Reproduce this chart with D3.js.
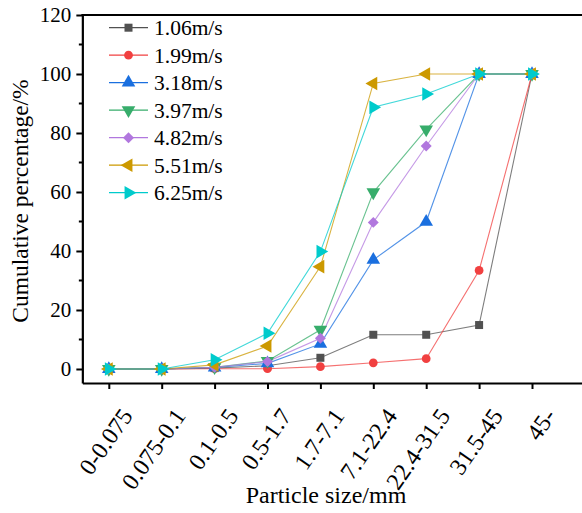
<!DOCTYPE html>
<html><head><meta charset="utf-8"><script src="https://cdn.jsdelivr.net/npm/d3@7"></script></head>
<body style="margin:0">
<svg id="chart" width="582" height="513"></svg>
<script>
// categorías del eje x (rangos de tamaño de partícula)
const CATS = ['0-0.075', '0.075-0.1', '0.1-0.5', '0.5-1.7', '1.7-7.1', '7.1-22.4', '22.4-31.5', '31.5-45', '45-'];
const SERIES_NAMES = ['1.06m/s', '1.99m/s', '3.18m/s', '3.97m/s', '4.82m/s', '5.51m/s', '6.25m/s'];
const V_106 = [0, 0, 0.3, 1.1, 3.8, 11.6, 11.6, 14.9, 100];
const V_199 = [0, 0, 0.1, 0.1, 0.8, 2.1, 3.5, 33.4, 100];
const V_318 = [0, 0, 0.5, 1.9, 8.5, 37.0, 49.9, 100, 100];
const V_397 = [0, 0, 0.6, 2.7, 13.3, 59.9, 81.2, 100, 100];
const V_482 = [0, 0, 0.6, 2.5, 10.4, 49.7, 75.6, 100, 100];
const V_551 = [0, 0, 1.4, 7.8, 34.7, 96.8, 100, 100, 100];
const V_625 = [0, 0, 3.1, 12.1, 39.8, 88.7, 93.2, 100, 100];
const Y_TICKS = [0, 20, 40, 60, 80, 100, 120];

const VALUES = [V_106, V_199, V_318, V_397, V_482, V_551, V_625];
// paleta de Origin
const COLORS = ['#515151', '#F14040', '#1A6FDF', '#37AD6B', '#B177DE', '#CC9900', '#00CBCC'];
// símbolo + rotación (rombo = cuadrado girado 45°)
const MARKS = [
  { type: d3.symbolSquare, size: 64, rot: 0 },
  { type: d3.symbolCircle, size: 60, rot: 0 },
  { type: d3.symbolTriangle, size: 80, rot: 0 },
  { type: d3.symbolTriangle, size: 80, rot: 180 },
  { type: d3.symbolSquare, size: 60, rot: 45 },
  { type: d3.symbolTriangle, size: 80, rot: -90 },
  { type: d3.symbolTriangle, size: 80, rot: 90 },
];
const FONT = '"Liberation Serif"';

const svg = d3.select('#chart');
const L = 82.35, T = 15, B = 383;

const x = d3.scaleLinear().domain([-0.5, 9.5]).range([L, L + 529]);
const y = d3.scaleLinear().domain([-4.75, 120]).range([B, T]);

// ejes (el texto se dibuja aparte, como <text> propio)
const gx = svg.append('g').attr('transform', `translate(0,${B})`)
  .call(d3.axisBottom(x).tickValues(d3.range(CATS.length)).tickFormat('').tickSize(6).tickSizeOuter(0));
gx.select('.domain').attr('stroke', '#000').attr('stroke-width', 2.2);
gx.selectAll('.tick line').attr('stroke', '#000').attr('stroke-width', 2);

const gy = svg.append('g').attr('transform', `translate(${L},0)`)
  .call(d3.axisLeft(y).tickValues(Y_TICKS).tickFormat('').tickSize(6).tickSizeOuter(0));
gy.select('.domain').attr('stroke', '#000').attr('stroke-width', 2.2);
gy.selectAll('.tick line').attr('stroke', '#000').attr('stroke-width', 2);

// ticks menores
gy.selectAll('.minor').data(d3.range(10, 120, 20)).join('line')
  .attr('x1', 0).attr('x2', -3.5)
  .attr('y1', d => y(d)).attr('y2', d => y(d))
  .attr('stroke', '#000').attr('stroke-width', 2);

// borde superior
svg.append('line').attr('x1', L - 1).attr('x2', 620).attr('y1', T).attr('y2', T)
  .attr('stroke', '#000').attr('stroke-width', 2.2);

// etiquetas de ticks
CATS.forEach((c, i) => {
  svg.append('text').attr('font-size', 24)
    .style('font-family', FONT)
    .attr('text-anchor', 'end').attr('dy', '0.35em')
    .attr('transform', `translate(${x(i) + 18},${B + 28}) rotate(-55)`)
    .text(c);
});
Y_TICKS.forEach(v => {
  svg.append('text').attr('font-size', 21)
    .style('font-family', FONT)
    .attr('text-anchor', 'end').attr('dy', '0.34em')
    .attr('x', L - 11).attr('y', y(v))
    .text(v);
});

// títulos
svg.append('text').attr('x', 326).attr('y', 503).attr('text-anchor', 'middle')
  .attr('font-size', 24).style('font-family', FONT).text('Particle size/mm');
svg.append('text').attr('transform', 'translate(28,201) rotate(-90)')
  .attr('text-anchor', 'middle').attr('font-size', 23.5).style('font-family', FONT)
  .text('Cumulative percentage/%');

// series
const line = d3.line().x((d, i) => x(i)).y(d => y(d));
const sym = m => d3.symbol().type(m.type).size(m.size)();

VALUES.forEach((vals, k) => {
  svg.append('path').datum(vals)
    .attr('d', line).attr('fill', 'none')
    .attr('stroke', COLORS[k]).attr('stroke-width', 1.1).attr('stroke-opacity', 0.75);
});
VALUES.forEach((vals, k) => {
  const m = MARKS[k];
  svg.append('g').selectAll('path').data(vals).join('path')
    .attr('d', sym(m))
    .attr('transform', (d, i) => `translate(${x(i)},${y(d)}) rotate(${m.rot})`)
    .attr('fill', COLORS[k]);
});

// leyenda
SERIES_NAMES.forEach((name, k) => {
  const ly = 27.7 + k * 27.5;
  svg.append('line').attr('x1', 109).attr('x2', 148).attr('y1', ly).attr('y2', ly)
    .attr('stroke', COLORS[k]).attr('stroke-width', 1.3);
  svg.append('path').attr('d', sym(MARKS[k]))
    .attr('transform', `translate(128.5,${ly}) rotate(${MARKS[k].rot})`)
    .attr('fill', COLORS[k]);
  svg.append('text').attr('x', 154).attr('y', ly + 7.5)
    .attr('font-size', 21.5).style('font-family', FONT).text(name);
});
</script>
</body>
</html>
